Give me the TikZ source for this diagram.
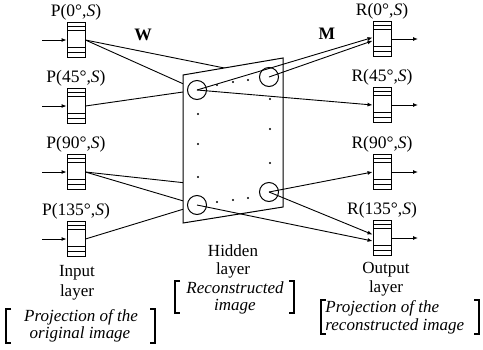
\documentclass[tikz,border=0pt]{standalone}
\usepackage{fontspec}
\setmainfont{Liberation Serif}
\usetikzlibrary{calc,arrows.meta}
\begin{document}
\begin{tikzpicture}[x=1pt,y=-1pt,line width=0.9pt,
  font=\fontsize{17.5}{19}\selectfont,
  unitbox/.style={draw,line width=0.9pt,minimum width=18pt,minimum height=35pt,inner sep=0pt,fill=white,
    path picture={
      \foreach \f in {0.10,0.21,0.72,0.86}{
        \draw[line width=0.7pt] ($(path picture bounding box.north west)!\f!(path picture bounding box.south west)$) --
          ($(path picture bounding box.north east)!\f!(path picture bounding box.south east)$);}
      \foreach \f in {0.31,0.45,0.59}{
        \fill ($(path picture bounding box.north)!\f!(path picture bounding box.south)$) circle (1.2pt);}
    }},
  lbl/.style={anchor=south,inner sep=1pt},
  tip/.style={-{Latex[length=5pt,width=4pt]}},
  hid/.style={circle,draw,line width=1pt,minimum size=19pt,inner sep=0pt},
  brk/.style={line width=1.7pt},
  txt/.style={inner sep=0pt,font=\fontsize{17}{18}\selectfont},
  ittxt/.style={inner sep=0pt,font=\fontsize{17}{18}\selectfont\itshape}]
\useasboundingbox (0,0) rectangle (483,349);

% input and output units
\foreach \n/\y/\a in {0/40/0,1/106/45,2/172/90,3/239/135}{
  \node[unitbox] (p\n) at (76,\y) {};
  \node[lbl] (pl\n) at (p\n.north) {P(\a°,\textit{S})};
  \coordinate (i\n) at (42,\y);
  \draw[tip] (i\n) -- (p\n.west);
}
\foreach \n/\y/\a in {0/39/0,1/105/45,2/172/90,3/238/135}{
  \node[unitbox] (r\n) at (382,\y) {};
  \node[lbl] (rl\n) at (r\n.north) {R(\a°,\textit{S})};
  \coordinate (o\n) at (418,\y);
  \draw[tip] (r\n.east) -- (o\n);
}

% hidden unit centres
\coordinate (ctl) at (197,90);
\coordinate (ctr) at (269,77);
\coordinate (cbr) at (269,192);
\coordinate (cbl) at (197,205);

% input -> hidden (behind the plane)
\draw (p0.east) -- (ctr);
\draw (p0.east) -- (ctl);
\draw (p1.east) -- (ctl);
\draw (p2.east) -- (cbl);
\draw (p2.east) -- (cbr);
\draw (p3.east) -- (cbl);

% hidden plane
\filldraw[fill=white,line width=1pt] (183,75) -- (283,58) -- (283,207) -- (183,223) -- cycle;

\node[hid] (htl) at (ctl) {};
\node[hid] (htr) at (ctr) {};
\node[hid] (hbr) at (cbr) {};
\node[hid] (hbl) at (cbl) {};

\foreach \x/\y in {217/85,233/82,248/80,198/114,198/144,198/177,270/99,270/129,270/163,217/202,233/200,248/198}
  \fill (\x,\y) circle (1.2pt);

% hidden -> output
\draw[tip] (htl.center) -- ($(r0.west)+(0,-1.5)$);
\draw[tip] (htr.center) -- ($(r0.west)+(0,1.8)$);
\draw[tip] (htl.center) -- (r1.west);
\draw[tip] (hbr.center) -- (r2.west);
\draw[tip] (hbr.center) -- ($(r3.west)+(0,-3.5)$);
\draw[tip] (hbl.center) -- ($(r3.west)+(0,3)$);

% weight labels
\node[font=\fontsize{17.5}{19}\selectfont\bfseries] (wlab) at (143,35) {W};
\node[font=\fontsize{17.5}{19}\selectfont\bfseries] (mlab) at (327,34) {M};

% layer captions
\node[txt] (t1) at (77,273) {Input};
\node[txt] (t2) at (77,292) {layer};
\node[ittxt] (t3) at (81,317) {Projection of the};
\node[ittxt] (t4) at (80,334) {original image};
\draw[brk] (11,309) -- (6,309) -- (6,343) -- (11,343);
\draw[brk] (150,309) -- (155,309) -- (155,343) -- (150,343);

\node[txt] (t5) at (233,251) {Hidden};
\node[txt] (t6) at (233,270) {layer};
\node[ittxt] (t7) at (235,288) {Reconstructed};
\node[ittxt] (t8) at (235,307) {image};
\draw[brk] (180,281) -- (175,281) -- (175,313) -- (180,313);
\draw[brk] (289,281) -- (294,281) -- (294,313) -- (289,313);

\node[txt] (t9) at (386,270) {Output};
\node[txt] (t10) at (386,288) {layer};
\node[ittxt,anchor=west] (t11) at (325,308) {Projection of the};
\node[ittxt,anchor=west] (t12) at (325,326) {reconstructed image};
\draw[brk] (326,300) -- (321,300) -- (321,334) -- (326,334);
\draw[brk] (474,300) -- (479,300) -- (479,334) -- (474,334);
\end{tikzpicture}
\end{document}
